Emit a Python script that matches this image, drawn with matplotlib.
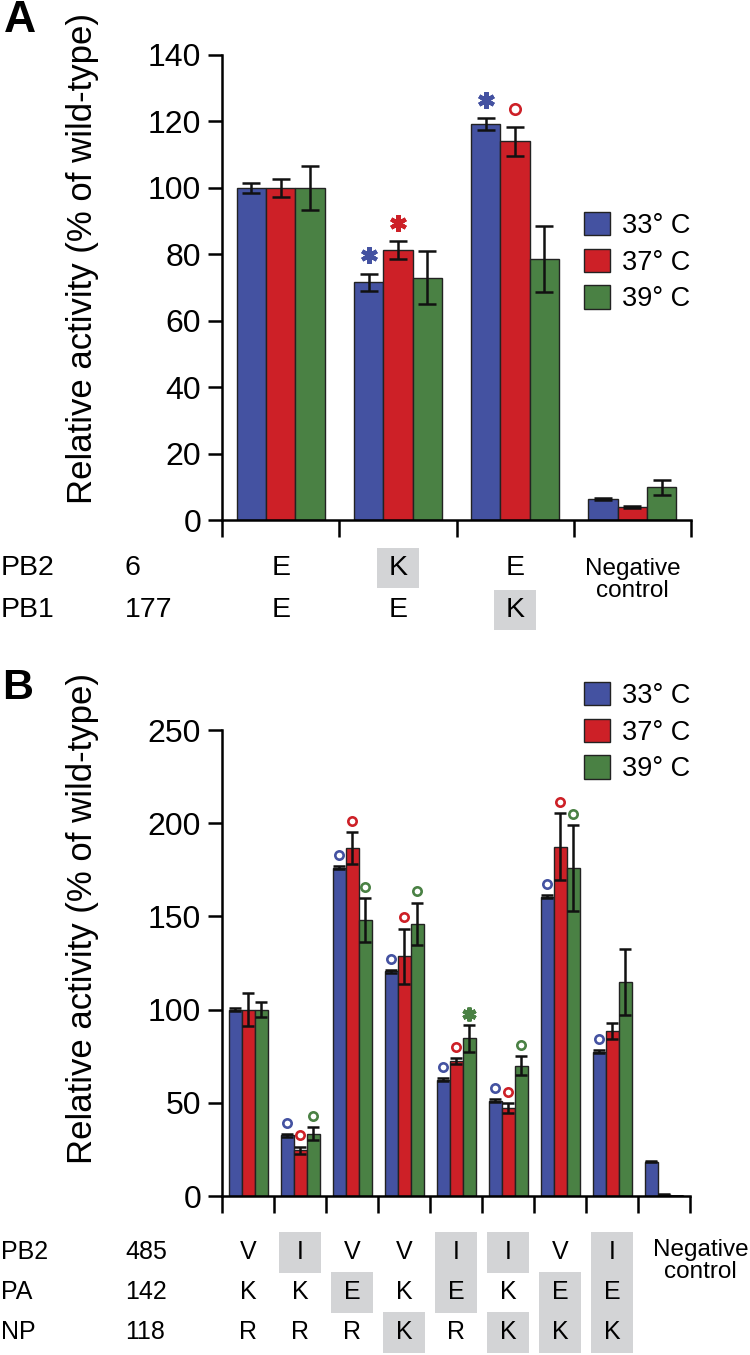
import matplotlib.pyplot as plt
import matplotlib.transforms as mtransforms
from matplotlib.patches import Rectangle, Patch
import numpy as np

plt.rcParams['font.family'] = ['Liberation Sans', 'DejaVu Sans']

# ---- data panel A ----
a_pb2 = ['E', 'K', 'E']
a_pb1 = ['E', 'E', 'K']
a_pb2_hl = [False, True, False]
a_pb1_hl = [False, False, True]
a33 = [100, 71.6, 119.2, 6.3]
a33_err = [1.5, 2.6, 1.9, 0.3]
a37 = [100, 81.2, 114.0, 3.8]
a37_err = [2.7, 2.7, 4.3, 0.3]
a39 = [100, 73.0, 78.5, 9.8]
a39_err = [6.6, 8.0, 10.0, 2.3]
a33_mark = ['', '*', '*', '']
a37_mark = ['', '*', 'o', '']
a39_mark = ['', '', '', '']

# ---- data panel B ----
b_pb2 = ['V', 'I', 'V', 'V', 'I', 'I', 'V', 'I']
b_pa = ['K', 'K', 'E', 'K', 'E', 'K', 'E', 'E']
b_np = ['R', 'R', 'R', 'K', 'R', 'K', 'K', 'K']
b_pb2_hl = [False, True, False, False, True, True, False, True]
b_pa_hl = [False, False, True, False, True, False, True, True]
b_np_hl = [False, False, False, True, False, True, True, True]
b33 = [100, 32.5, 176, 120.6, 62.5, 51.2, 160.6, 77.3, 18.5]
b33_err = [0.8, 0.8, 0.8, 0.8, 0.8, 0.8, 0.8, 0.8, 0.5]
b37 = [100, 24.5, 186.5, 128.5, 72.5, 47.0, 187.5, 88.5, 0.8]
b37_err = [9.0, 2.0, 8.6, 15.0, 1.5, 2.7, 18.0, 4.5, 0.2]
b39 = [100, 33.5, 148, 146, 84.5, 70, 176, 114.7, 0]
b39_err = [4.0, 3.6, 12.0, 11.4, 7.0, 5.0, 23.0, 17.6, 0]
b33_mark = ['', 'o', 'o', 'o', 'o', 'o', 'o', 'o', '']
b37_mark = ['', 'o', 'o', 'o', 'o', 'o', 'o', '', '']
b39_mark = ['', 'o', 'o', 'o', '*', 'o', 'o', '', '']

temps = ['33° C', '37° C', '39° C']
cores = ['#4452a1', '#cd2027', '#4a8144']
cinza = '#d3d4d6'

W, H = 750, 1355
fig = plt.figure(figsize=(W / 100, H / 100), dpi=100)


def fy(ypx):
    return 1 - ypx / H


def painel(ax, series, erros, marcas, ymax, ystep, capsize, ms_o, ms_star, off, leg_xy):
    n = len(series[0])
    x = np.arange(n)
    largura = 0.25
    for k, (vals, errs, cor) in enumerate(zip(series, erros, cores)):
        xs = x + (k - 1) * largura
        ax.bar(xs, vals, largura, color=cor, edgecolor='#222222', linewidth=1.0,
               yerr=errs, capsize=capsize,
               error_kw=dict(ecolor='#111111', elinewidth=1.8, capthick=1.8), zorder=2)
        tr = mtransforms.offset_copy(ax.transData, fig=fig, y=off, units='points')
        for i in range(n):
            m = marcas[k][i]
            topo = vals[i] + errs[i]
            if m == 'o':
                ax.plot(xs[i], topo, marker='o', ms=ms_o, mfc='white', mec=cor,
                        mew=1.9, transform=tr, clip_on=False, zorder=4)
            elif m == '*':
                ax.plot(xs[i], topo, marker=(6, 2, 0), ms=ms_star, mec=cor,
                        mew=3.0, transform=tr, clip_on=False, zorder=4)
    ax.set_xlim(-0.5, n - 0.5)
    ax.set_ylim(0, ymax)
    ax.set_yticks(np.arange(0, ymax + 1, ystep))
    ax.set_xticks(np.arange(n + 1) - 0.5)
    ax.set_xticklabels([])
    for s in ['top', 'right']:
        ax.spines[s].set_visible(False)
    for s in ['left', 'bottom']:
        ax.spines[s].set_linewidth(1.8)
    ax.tick_params(axis='y', direction='out', length=10, width=1.8, labelsize=23, pad=5)
    ax.tick_params(axis='x', direction='out', length=12, width=1.8)
    ax.legend(handles=[Patch(facecolor=c, edgecolor='#222222', linewidth=1.0) for c in cores],
              labels=temps, frameon=False, fontsize=19.5, handlelength=0.95,
              handleheight=0.95, handletextpad=0.45, labelspacing=0.36,
              borderpad=0, borderaxespad=0, loc='upper left',
              bbox_to_anchor=leg_xy, bbox_transform=fig.transFigure)


def tabela(ax, linhas, nomes, numeros, destaques, ys, fs, larg_box, alt_box):
    trans = mtransforms.blended_transform_factory(ax.transData, fig.transFigure)
    for linha, nome, num, hl, y in zip(linhas, nomes, numeros, destaques, ys):
        fig.text(1 / W, fy(y), nome, ha='left', va='center', fontsize=fs)
        fig.text(125 / W, fy(y), num, ha='left', va='center', fontsize=fs)
        for i, (letra, h) in enumerate(zip(linha, hl)):
            if h:
                ax.add_patch(Rectangle((i - larg_box / 2, fy(y + alt_box / 2)), larg_box,
                                       alt_box / H, transform=trans, facecolor=cinza,
                                       edgecolor='none', clip_on=False, zorder=0))
            ax.text(i, fy(y), letra, transform=trans, ha='center', va='center',
                    fontsize=fs, clip_on=False, zorder=3)


# ---- panel A ----
axA = fig.add_axes([222 / W, fy(520), (691 - 222) / W, (520 - 55) / H])
painel(axA, [a33, a37, a39], [a33_err, a37_err, a39_err],
       [a33_mark, a37_mark, a39_mark], 140, 20, 6.5, 7.5, 12, 13,
       (584 / W, fy(212)))
tabela(axA, [a_pb2, a_pb1], ['PB2', 'PB1'], ['6', '177'], [a_pb2_hl, a_pb1_hl],
       [568, 610], 20.5, 0.36, 39)
transA = mtransforms.blended_transform_factory(axA.transData, fig.transFigure)
axA.text(3, fy(580), 'Negative\ncontrol', transform=transA, ha='center', va='center',
         fontsize=17.5, linespacing=1.05, clip_on=False)
fig.text(83 / W, fy(259), 'Relative activity (% of wild-type)', rotation=90,
         ha='center', va='center', fontsize=25)
fig.text(4 / W, fy(20), 'A', fontsize=32, fontweight='bold', ha='left', va='center')

# ---- panel B ----
axB = fig.add_axes([222 / W, fy(1196), (690 - 222) / W, (1196 - 730) / H])
painel(axB, [b33, b37, b39], [b33_err, b37_err, b39_err],
       [b33_mark, b37_mark, b39_mark], 250, 50, 4.3, 6.0, 10, 8,
       (584 / W, fy(682)))
tabela(axB, [b_pb2, b_pa, b_np], ['PB2', 'PA', 'NP'], ['485', '142', '118'],
       [b_pb2_hl, b_pa_hl, b_np_hl], [1252, 1292, 1332], 18, 0.8, 41)
transB = mtransforms.blended_transform_factory(axB.transData, fig.transFigure)
axB.text(8.7, fy(1261), 'Negative\ncontrol', transform=transB, ha='center', va='center',
         fontsize=17.5, linespacing=1.05, clip_on=False)
fig.text(83 / W, fy(919), 'Relative activity (% of wild-type)', rotation=90,
         ha='center', va='center', fontsize=25)
fig.text(2 / W, fy(688), 'B', fontsize=31, fontweight='bold', ha='left', va='center')

fig.savefig('out.png', dpi=100)
